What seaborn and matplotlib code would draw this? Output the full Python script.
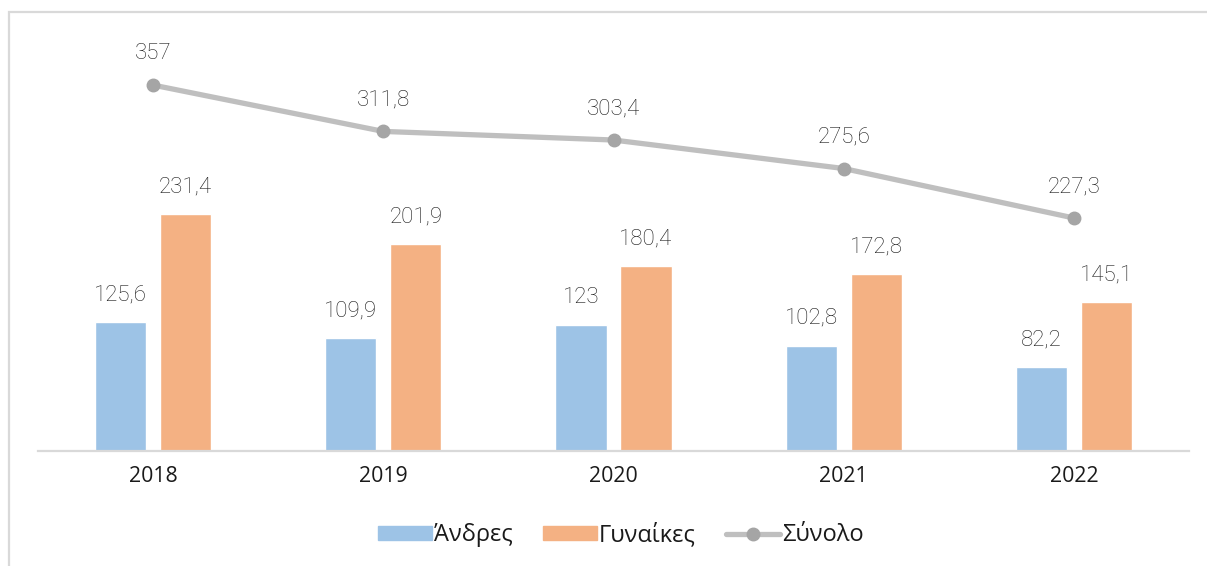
import pandas as pd
import matplotlib.pyplot as plt
import seaborn as sns
from matplotlib.patches import Rectangle, Patch
from matplotlib.lines import Line2D

years = ["2018", "2019", "2020", "2021", "2022"]
men = [125.6, 109.9, 123, 102.8, 82.2]
women = [231.4, 201.9, 180.4, 172.8, 145.1]
total = [357, 311.8, 303.4, 275.6, 227.3]
men_label = "Άνδρες"
women_label = "Γυναίκες"
total_label = "Σύνολο"

blue = "#9DC3E6"
orange = "#F4B183"
line_grey = "#BFBFBF"
marker_grey = "#A5A5A5"
text_col = "#1A1A1A"

sns.set_style("white")
plt.rcParams["font.family"] = ["Roboto", "DejaVu Sans"]

df = pd.DataFrame({"year": years * 2,
                   "value": men + women,
                   "sex": [men_label] * 5 + [women_label] * 5})

fig = plt.figure(figsize=(12.07, 5.66), dpi=100)
ax = fig.add_axes([38 / 1207, 1 - 451 / 566, (1189 - 38) / 1207, 410 / 566])

sns.barplot(data=df, x="year", y="value", hue="sex",
            palette=[blue, orange], width=0.565, gap=0.214,
            saturation=1, ax=ax, legend=False)
sns.pointplot(x=years, y=total, color=line_grey, ax=ax,
              markers="o", markersize=0, linewidth=3.8)
ax.plot(range(5), total, linestyle="none", marker="o", markersize=9,
        color=marker_grey, zorder=5)

ax.set_ylim(0, 400)
ax.set_xlim(-0.5, 4.5)
ax.set_xlabel("")
ax.set_ylabel("")
ax.set_yticks([])
for s in ["top", "right", "left"]:
    ax.spines[s].set_visible(False)
ax.spines["bottom"].set_color("#D9D9D9")
ax.spines["bottom"].set_linewidth(1.6)
ax.tick_params(axis="x", length=0, pad=11, labelsize=15.3, colors=text_col)
for t in ax.get_xticklabels():
    t.set_fontfamily(["Open Sans", "DejaVu Sans"])

fmt = lambda v: (f"{v:g}").replace(".", ",")
lab = dict(textcoords="offset points", ha="center", va="bottom",
           fontsize=16, color=text_col, fontweight="light")
for i in range(5):
    ax.annotate(fmt(men[i]), (i - 0.141, men[i]), xytext=(0, 12), **lab)
    ax.annotate(fmt(women[i]), (i + 0.141, women[i]), xytext=(0, 12), **lab)
    ax.annotate(fmt(total[i]), (i, total[i]), xytext=(0, 15), **lab)

handles = [Patch(color=blue, label=men_label),
           Patch(color=orange, label=women_label),
           Line2D([0], [0], color=line_grey, lw=3.8, marker="o",
                  markersize=9, markerfacecolor=marker_grey,
                  markeredgecolor=marker_grey, label=total_label)]
fig.legend(handles=handles, loc="center", bbox_to_anchor=(621 / 1207, 1 - 535 / 566),
           ncol=3, frameon=False, handlelength=2.25,
           handleheight=0.55, handletextpad=0.1, columnspacing=1.3,
           labelcolor=text_col,
           prop={"family": ["Open Sans", "DejaVu Sans"], "size": 17})

fig.patches.append(Rectangle((8.5 / 1207, -0.1), 1.2, 1 - 11.5 / 566 + 0.1,
                             transform=fig.transFigure, fill=False,
                             edgecolor="#D9D9D9", lw=1.6, zorder=0))

fig.savefig("out.png", dpi=100)
